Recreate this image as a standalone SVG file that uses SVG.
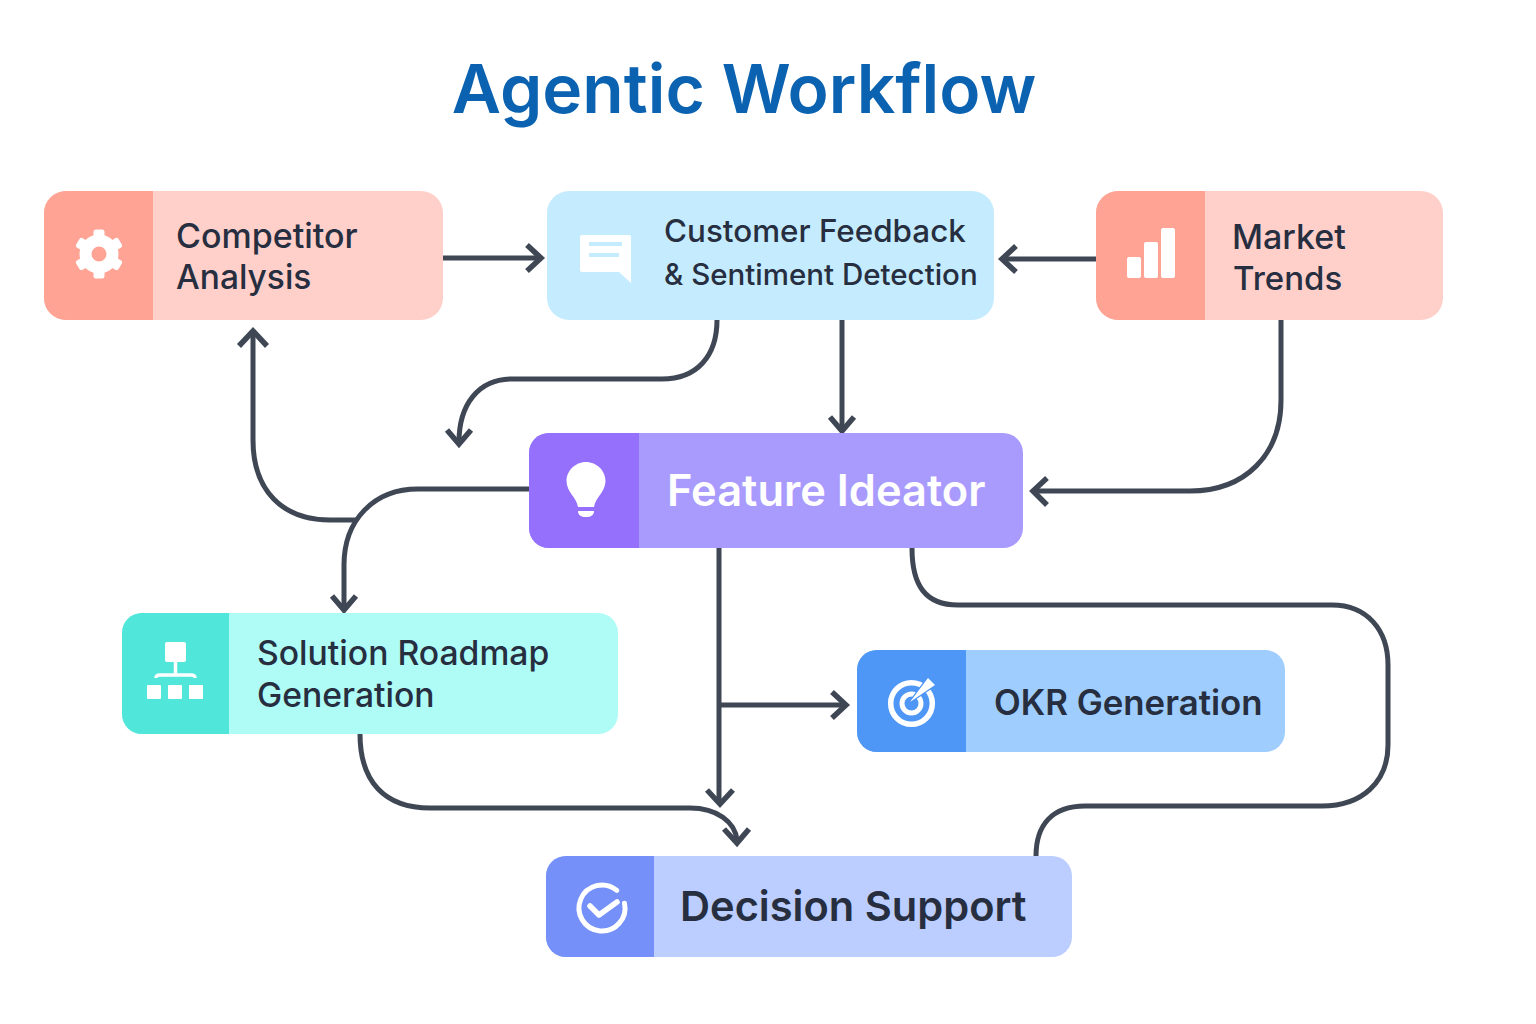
<svg xmlns="http://www.w3.org/2000/svg" width="1536" height="1024" viewBox="0 0 1536 1024">
<style>
text{font-family:Inter,"Liberation Sans",sans-serif;fill:#262E40;font-weight:500}
.c{fill:none;stroke:#3F4755;stroke-width:5}
.h{fill:none;stroke:#3F4755;stroke-width:5.500;stroke-linejoin:miter}
.w{fill:#fff}
</style>
<rect width="1536" height="1024" fill="#fff"/>
<text x="744" y="113" text-anchor="middle" font-size="67.700" style="fill:#0B62B0;font-weight:600" id="title">Agentic Workflow</text>
<g id="connectors">
<path class="c" d="M443 258H538"/><path class="h" d="M527 245L541 258L527 271"/>
<path class="c" d="M1096 259H1003"/><path class="h" d="M1016 246L1002 259L1016 272"/>
<path class="c" d="M717 320C717 356 697 379 662 379H512C478 379 459 405 459 442"/><path class="h" d="M447 430L459 444L471 430"/>
<path class="c" d="M842 320V429"/><path class="h" d="M830 417L842 431L854 417"/>
<path class="c" d="M1281 320V400C1281 455 1245 491 1190 491H1035"/><path class="h" d="M1047 478L1033 491L1047 505"/>
<path class="c" d="M529 489H418C374 489 344 520 344 565V607"/><path class="h" d="M332 596L344 610L356 596"/>
<path class="c" d="M356 520H330C282 520 253 490 253 440V334"/><path class="h" d="M239 346L253 331L267 346"/>
<path class="c" d="M719 548V802"/><path class="h" d="M707 790L720 804L733 790"/>
<path class="c" d="M720 705H844"/><path class="h" d="M832 692L846 705L832 718"/>
<path class="c" d="M912 548C912 585 925 605 958 605H1332C1367 605 1388 630 1388 665V745C1388 782 1362 806 1322 806H1085C1052 806 1036 825 1036 856"/>
<path class="c" d="M360 734C360 782 385 808 430 808H690C717 808 735 822 737 840"/><path class="h" d="M724 829L737 843L749 829"/>
</g>
<g id="competitor-analysis">
<rect x="44" y="191" width="399" height="129" rx="22" fill="#FFD0CA"/>
<path d="M153 191H66a22 22 0 0 0-22 22v85a22 22 0 0 0 22 22h87z" fill="#FFA394"/>
<circle cx="99" cy="254" r="13.500" fill="none" stroke="#fff" stroke-width="12"/>
<g class="w">
<rect x="93.500" y="229.500" width="11" height="10" rx="2.500"/>
<rect x="93.500" y="229.500" width="11" height="10" rx="2.500" transform="rotate(60 99 254)"/>
<rect x="93.500" y="229.500" width="11" height="10" rx="2.500" transform="rotate(120 99 254)"/>
<rect x="93.500" y="229.500" width="11" height="10" rx="2.500" transform="rotate(180 99 254)"/>
<rect x="93.500" y="229.500" width="11" height="10" rx="2.500" transform="rotate(240 99 254)"/>
<rect x="93.500" y="229.500" width="11" height="10" rx="2.500" transform="rotate(300 99 254)"/>
</g>
<text x="176" y="248" font-size="34">Competitor</text>
<text x="176" y="289" font-size="33.500">Analysis</text>
</g>
<g id="customer-feedback">
<rect x="547" y="191" width="447" height="129" rx="22" fill="#C5EBFF"/>
<path class="w" d="M582 235H629a2 2 0 0 1 2 2V283L619 272H582a2 2 0 0 1-2-2V237a2 2 0 0 1 2-2z"/>
<path d="M589 244H622M589 255H619" stroke="#C5EBFF" stroke-width="4" fill="none"/>
<text x="664" y="242" font-size="31.400">Customer Feedback</text>
<text x="664" y="285" font-size="29.500">&amp; Sentiment Detection</text>
</g>
<g id="market-trends">
<rect x="1096" y="191" width="347" height="129" rx="22" fill="#FFD0CA"/>
<path d="M1205 191H1118a22 22 0 0 0-22 22v85a22 22 0 0 0 22 22h87z" fill="#FFA394"/>
<rect class="w" x="1127" y="257" width="14" height="21" rx="2"/><rect class="w" x="1144" y="242" width="14" height="36" rx="2"/><rect class="w" x="1161" y="228" width="14" height="50" rx="2"/>
<text x="1232" y="249" font-size="34">Market</text>
<text x="1233" y="290" font-size="33">Trends</text>
</g>
<g id="feature-ideator">
<rect x="529" y="433" width="494" height="115" rx="20" fill="#A99AFD"/>
<path d="M639 433H549a20 20 0 0 0-20 20v75a20 20 0 0 0 20 20h90z" fill="#9570FC"/>
<path class="w" d="M586 462c-11 0-19.500 9-19.500 19 0 11 10 16 11.500 26h16c1.500-10 11.500-15 11.500-26 0-10-8.500-19-19.500-19zM578 511h16c0 4-3 6-8 6s-8-2-8-6z"/>
<text x="667" y="505.500" font-size="43.400" style="fill:#fff;font-weight:600">Feature Ideator</text>
</g>
<g id="solution-roadmap">
<rect x="122" y="613" width="496" height="121" rx="20" fill="#AFFBF6"/>
<path d="M229 613H142a20 20 0 0 0-20 20v81a20 20 0 0 0 20 20h87z" fill="#50E6DA"/>
<rect class="w" x="165" y="642" width="21" height="20" rx="2"/>
<path d="M175.500 662V676M156 678c0-3 2-3 4-3H191c2 0 4 0 4 3" stroke="#fff" stroke-width="3.500" fill="none"/>
<rect class="w" x="147" y="685" width="14" height="14" rx="1"/><rect class="w" x="168" y="685" width="14" height="14" rx="1"/><rect class="w" x="189" y="685" width="14" height="14" rx="1"/>
<text x="257" y="665" font-size="33.700">Solution Roadmap</text>
<text x="257" y="707" font-size="33.700">Generation</text>
</g>
<g id="okr-generation">
<rect x="857" y="650" width="428" height="102" rx="20" fill="#9FCDFE"/>
<path d="M966 650H877a20 20 0 0 0-20 20v62a20 20 0 0 0 20 20h89z" fill="#4F97F6"/>
<circle cx="911.500" cy="703.500" r="20.800" fill="none" stroke="#fff" stroke-width="5.500"/>
<circle cx="911.500" cy="703.500" r="9.500" fill="none" stroke="#fff" stroke-width="5"/>
<path d="M910 702L928 678L935 685Z" fill="#fff" stroke="#4F97F6" stroke-width="2.500" paint-order="stroke"/>
<text x="994" y="715" font-size="34.800" style="font-weight:600">OKR Generation</text>
</g>
<g id="decision-support">
<rect x="546" y="856" width="526" height="101" rx="20" fill="#BBCEFF"/>
<path d="M654 856H566a20 20 0 0 0-20 20v61a20 20 0 0 0 20 20h88z" fill="#7590F8"/>
<path d="M616.800 890.400A23 23 0 1 0 624.500 903.200" fill="none" stroke="#fff" stroke-width="5" stroke-linecap="round"/>
<path d="M590 906L599 915L617 902" fill="none" stroke="#fff" stroke-width="5.500" stroke-linecap="round" stroke-linejoin="round"/>
<text x="680" y="921" font-size="41.600" style="font-weight:600">Decision Support</text>
</g>
</svg>
